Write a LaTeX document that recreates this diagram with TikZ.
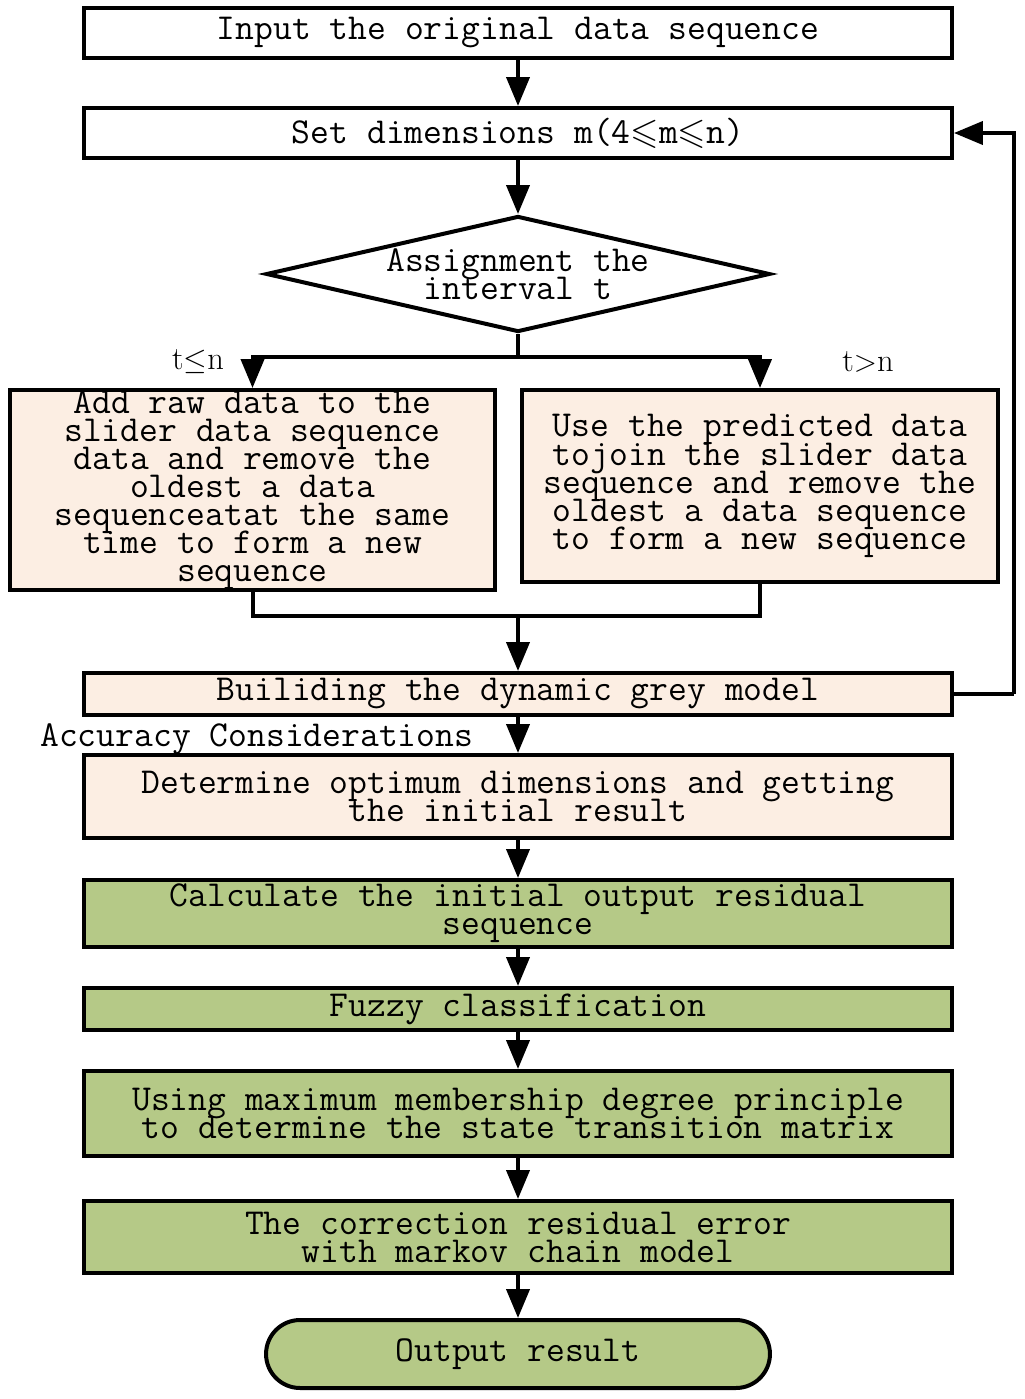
\documentclass[tikz,border=0pt]{standalone}
\usepackage{fontspec}
\usepackage{amssymb}
\usetikzlibrary{shapes.geometric}
\usetikzlibrary{arrows.meta}
\definecolor{green}{HTML}{B5C987}
\definecolor{peach}{HTML}{FCEEE3}
\newcommand{\boxfont}{\ttfamily\fontsize{20.8}{16}\selectfont\lineskiplimit-100pt\relax}

\begin{document}
\begin{tikzpicture}[x=0.02cm,y=-0.02cm]
    \tikzstyle{tt}=[font=\boxfont]
    \tikzstyle{block}=[rectangle, draw, line width=0.08cm
    , minimum width=17.36cm, inner sep=0pt, align=center, tt]
    \tikzstyle{flow}=[line width=0.08cm
    , -{Triangle[length=0.58cm,width=0.46cm]}]
    \tikzstyle{line}=[line width=0.08cm]
    \useasboundingbox (0,0) rectangle (1024,1399);
    % Draw the boxes
    \node[block,minimum height=1cm] (input) at (518,33) {Input the original data sequence};
    \node[block,minimum height=1cm] (dim) at (518,133) {Set dimensions m(4$\leqslant$m$\leqslant$n)};
    \node[diamond,draw,line width=0.08cm,aspect=4.3,inner sep=0pt
    , minimum width=10.08cm, minimum height=2.32cm, align=center, tt] (assign) at (518,274) {Assignment the\\interval t};
    \node[block,fill=peach,minimum width=9.7cm,minimum height=4cm,inner ysep=-0.1cm] (raw) at (252.5,490)
    {Add raw data to the\\slider data sequence\\data and remove the\\oldest a data\\sequenceatat the same\\time to form a new\\sequence};
    \node[block,fill=peach,minimum width=9.52cm,minimum height=3.84cm] (pred) at (760,486)
    {Use the predicted data\\tojoin the slider data\\sequence and remove the\\oldest a data sequence\\to form a new sequence};
    \node[block,fill=peach,minimum height=0.84cm] (build) at (518,694) {Builiding the dynamic grey model};
    \node[block,fill=peach,minimum height=1.66cm] (optim) at (518,796.5) {Determine optimum dimensions and getting\\the initial result};
    \node[block,fill=green,minimum height=1.34cm] (resid) at (518,913.5) {Calculate the initial output residual\\sequence};
    \node[block,fill=green,minimum height=0.84cm] (fuzzy) at (518,1009) {Fuzzy classification};
    \node[block,fill=green,minimum height=1.7cm] (matrix) at (518,1113.5) {Using maximum membership degree principle\\to determine the state transition matrix};
    \node[block,fill=green,minimum height=1.44cm] (markov) at (518,1237) {The correction residual error\\with markov chain model};
    \node[block,fill=green,minimum width=10.08cm,minimum height=1.36cm,rounded corners=0.68cm] (output) at (518,1354) {Output result};
    % Labels
    \node[font=\fontsize{18.5}{18.5}\selectfont] (le) at (198,362) {t$\leq$n};
    \node[font=\fontsize{18.5}{18.5}\selectfont] (gt) at (868,362) {t$>$n};
    \node[anchor=west,inner sep=0pt,tt] (acc) at (40,739) {Accuracy Considerations};
    % Junctions
    \coordinate (split) at (518,357);
    \coordinate (merge) at (518,616);
    \coordinate (loop) at (1014,694);
    % Draw the arrows
    \draw[flow] (input) to (dim);
    \draw[flow] (dim) to (assign);
    \draw[line] (assign.south) -- (split);
    \draw[flow] (split) -| (raw.north);
    \draw[flow] (split) -| (pred.north);
    \draw[line] (raw.south) |- (merge);
    \draw[line] (pred.south) |- (merge);
    \draw[flow] (merge) -- (build.north);
    \draw[line] (build.east) -- (loop);
    \draw[flow] (loop) |- (dim.east);
    \draw[flow] (build) to (optim);
    \draw[flow] (optim) to (resid);
    \draw[flow] (resid) to (fuzzy);
    \draw[flow] (fuzzy) to (matrix);
    \draw[flow] (matrix) to (markov);
    \draw[flow] (markov) to (output);
\end{tikzpicture}
\end{document}
